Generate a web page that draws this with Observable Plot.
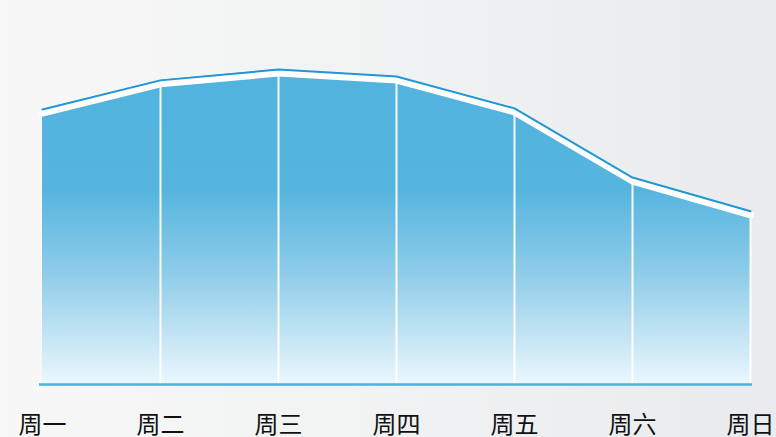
<!DOCTYPE html>
<html>
<head>
<meta charset="utf-8">
<script src="https://cdn.jsdelivr.net/npm/d3@7"></script>
<script src="https://cdn.jsdelivr.net/npm/@observablehq/plot@0.6"></script>
<style>
  html, body { margin: 0; padding: 0; }
  body {
    width: 776px; height: 437px; overflow: hidden;
    background: linear-gradient(to right, #f8f8f8 0%, #f2f3f3 40%, #eaebee 100%);
    font-family: "Noto Sans CJK SC", "Noto Sans", sans-serif;
  }
  svg { overflow: visible; }
</style>
</head>
<body>
<div id="chart"></div>
<script>
const days = ["周一", "周二", "周三", "周四", "周五", "周六", "周日"];
const values = [71.6, 79.2, 82.0, 80.2, 71.9, 53.9, 45.1];

const data = days.map((d, i) => ({ day: d, value: values[i] }));

const plot = Plot.plot({
  width: 776,
  height: 437,
  marginLeft: 39,
  marginRight: 24,
  marginTop: 0,
  marginBottom: 53,
  style: { background: "transparent", fontFamily: "'Noto Sans CJK SC', sans-serif", overflow: "visible" },
  x: { type: "point", domain: days, padding: 0, label: null },
  y: { domain: [0, 100], axis: null },
  marks: [
    Plot.areaY(data, { x: "day", y: "value", fill: "url(#areaGrad)", curve: "linear" }),
    Plot.ruleX(data.slice(1), { x: "day", y1: 0, y2: "value", stroke: "white", strokeWidth: 2, strokeOpacity: 0.95 }),
    Plot.line(data, { x: "day", y: "value", stroke: "white", strokeWidth: 7, dy: 3.5 }),
    Plot.ruleY([0], { stroke: "#4eb0dc", strokeWidth: 2.5 }),
    Plot.line(data, { x: "day", y: "value", stroke: "#1f98d4", strokeWidth: 2 }),
    Plot.axisX({ tickSize: 0, tickPadding: 31, fontSize: 24, color: "#111", label: null })
  ]
});

const ns = "http://www.w3.org/2000/svg";
const defs = document.createElementNS(ns, "defs");
const grad = document.createElementNS(ns, "linearGradient");
grad.setAttribute("id", "areaGrad");
grad.setAttribute("x1", "0"); grad.setAttribute("y1", "0");
grad.setAttribute("x2", "0"); grad.setAttribute("y2", "1");
[["0%", "#52b3de"], ["38%", "#55b5df"], ["65%", "#8fcce9"], ["100%", "#ebf7fd"]].forEach(([o, c]) => {
  const s = document.createElementNS(ns, "stop");
  s.setAttribute("offset", o);
  s.setAttribute("stop-color", c);
  grad.appendChild(s);
});
defs.appendChild(grad);
plot.insertBefore(defs, plot.firstChild);
document.getElementById("chart").appendChild(plot);
</script>
</body>
</html>
